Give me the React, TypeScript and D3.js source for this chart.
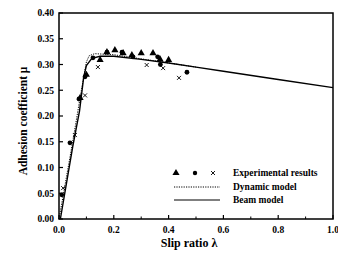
import React from "react";
import * as d3 from "d3";

const xTicks = [0, 0.2, 0.4, 0.6, 0.8, 1.0];
const xMinor = [0.1, 0.3, 0.5, 0.7, 0.9];
const yTicks = [0, 0.05, 0.1, 0.15, 0.2, 0.25, 0.3, 0.35, 0.4];

const beamLambda = [0.005, 0.05, 0.075, 0.09, 0.1, 0.12, 0.15, 0.2, 0.3, 0.4, 0.5, 0.6, 0.8, 1.0];
const beamMu = [0, 0.14, 0.21, 0.275, 0.298, 0.312, 0.316, 0.316, 0.31, 0.303, 0.295, 0.287, 0.271, 0.255];

const dynLambda = [0, 0.05, 0.08, 0.1, 0.11, 0.13, 0.2, 0.3, 0.4, 0.5];
const dynMu = [0, 0.15, 0.245, 0.305, 0.317, 0.321, 0.319, 0.311, 0.303, 0.295];

const triLambda = [0.077, 0.1, 0.15, 0.175, 0.204, 0.234, 0.266, 0.3, 0.343, 0.369, 0.4];
const triMu = [0.235, 0.28, 0.309, 0.324, 0.328, 0.322, 0.318, 0.322, 0.322, 0.31, 0.309];

const cirLambda = [0.01, 0.04, 0.073, 0.095, 0.124, 0.175, 0.23, 0.27, 0.36, 0.37, 0.467];
const cirMu = [0.047, 0.148, 0.233, 0.276, 0.313, 0.324, 0.324, 0.315, 0.315, 0.3, 0.285];

const crsLambda = [0.015, 0.058, 0.095, 0.142, 0.32, 0.38, 0.438];
const crsMu = [0.06, 0.163, 0.24, 0.295, 0.299, 0.293, 0.274];

export default function App() {
  const W = 338, H = 254;
  const L = 59, R = 333, T = 13, B = 219;
  const x = d3.scaleLinear().domain([0, 1]).range([L, R]);
  const y = d3.scaleLinear().domain([0, 0.4]).range([B, T]);
  const line = d3.line<[number, number]>().x(d => x(d[0])).y(d => y(d[1]));
  const beam = line(beamLambda.map((l, i) => [l, beamMu[i]]));
  const dyn = line(dynLambda.map((l, i) => [l, dynMu[i]]));
  const font = "'Liberation Serif', 'Times New Roman', serif";
  const tri = d3.symbol().type(d3.symbolTriangle).size(22)();
  return (
    <svg width={W} height={H} style={{ position: "absolute", left: 0, top: 0, background: "#fff" }}>
      <rect x={L} y={T} width={R - L} height={B - T} fill="none" stroke="#000" strokeWidth={1.5} />
      {xTicks.map(t => (
        <g key={"x" + t}>
          <line x1={x(t)} x2={x(t)} y1={B} y2={B - 4} stroke="#000" strokeWidth={1.2} />
          <text x={x(t)} y={B + 14} textAnchor="middle" fontFamily={font} fontWeight="bold" fontSize={9.5}>{t.toFixed(1)}</text>
        </g>
      ))}
      {xMinor.map(t => (
        <line key={"xm" + t} x1={x(t)} x2={x(t)} y1={B} y2={B - 2.5} stroke="#000" strokeWidth={1} />
      ))}
      {yTicks.map(t => (
        <g key={"y" + t}>
          <line x1={L} x2={L + 4} y1={y(t)} y2={y(t)} stroke="#000" strokeWidth={1.2} />
          <text x={L - 5} y={y(t) + 3.3} textAnchor="end" fontFamily={font} fontWeight="bold" fontSize={9.5}>{t.toFixed(2)}</text>
        </g>
      ))}
      <path d={beam || ""} fill="none" stroke="#000" strokeWidth={1.4} />
      <path d={dyn || ""} fill="none" stroke="#000" strokeWidth={1} strokeDasharray="1.2 1.2" />
      {triLambda.map((l, i) => (
        <path key={"t" + i} d={tri || ""} transform={`translate(${x(l)},${y(triMu[i])})`} fill="#000" />
      ))}
      {cirLambda.map((l, i) => (
        <circle key={"c" + i} cx={x(l)} cy={y(cirMu[i])} r={2.4} fill="#000" />
      ))}
      {crsLambda.map((l, i) => (
        <g key={"k" + i} transform={`translate(${x(l)},${y(crsMu[i])})`} stroke="#000" strokeWidth={0.9}>
          <line x1={-2} y1={-2} x2={2} y2={2} />
          <line x1={-2} y1={2} x2={2} y2={-2} />
        </g>
      ))}
      {/* legend */}
      <path d={tri || ""} transform="translate(176,173)" fill="#000" />
      <circle cx={195} cy={173} r={2.2} fill="#000" />
      <g transform="translate(213,173)" stroke="#000" strokeWidth={0.9}>
        <line x1={-2} y1={-2} x2={2} y2={2} />
        <line x1={-2} y1={2} x2={2} y2={-2} />
      </g>
      <text x={233} y={176} fontFamily={font} fontWeight="bold" fontSize={9.5}>Experimental results</text>
      <line x1={174} x2={220} y1={187} y2={187} stroke="#000" strokeWidth={1} strokeDasharray="1.2 1.2" />
      <text x={233} y={190} fontFamily={font} fontWeight="bold" fontSize={9.5}>Dynamic model</text>
      <line x1={174} x2={220} y1={200} y2={200} stroke="#000" strokeWidth={1.2} />
      <text x={233} y={203} fontFamily={font} fontWeight="bold" fontSize={9.5}>Beam model</text>
      <text x={189} y={247} textAnchor="middle" fontFamily={font} fontWeight="bold" fontSize={12}>Slip ratio λ</text>
      <text transform="translate(27,121) rotate(-90)" textAnchor="middle" fontFamily={font} fontWeight="bold" fontSize={11.5}>Adhesion coefficient μ</text>
    </svg>
  );
}
